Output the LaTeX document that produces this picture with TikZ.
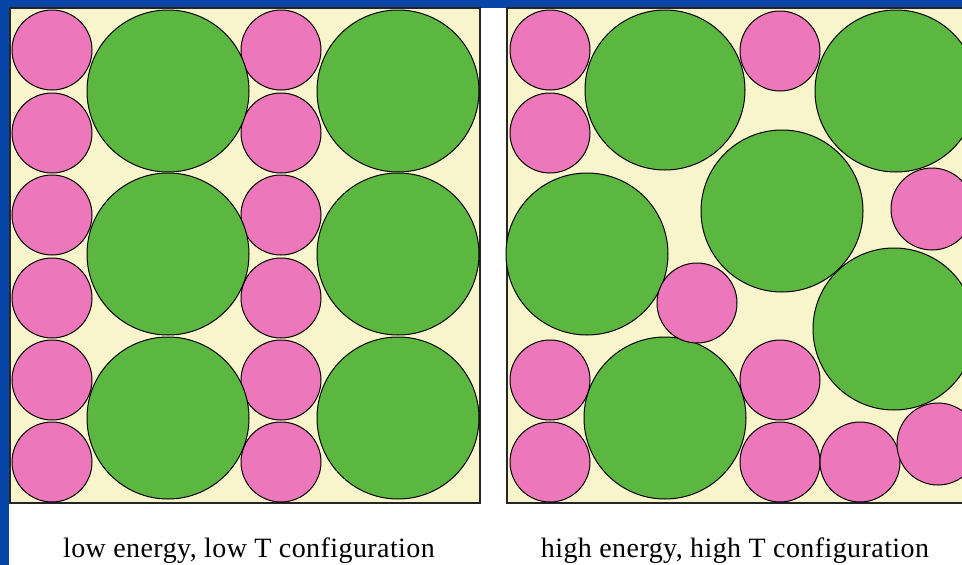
\documentclass[tikz,border=0pt]{standalone}
\usepackage{fontspec}
\setmainfont{Liberation Serif}
\newfontfamily\capfont[LetterSpace=1.5]{Liberation Serif}
\definecolor{bgblue}{HTML}{0746A8}
\definecolor{cream}{HTML}{F8F5CC}
\definecolor{pinkc}{HTML}{EC77BA}
\definecolor{greenc}{HTML}{5CB740}
\tikzset{
  panel/.style={fill=cream, draw=black!85, line width=1.4pt},
  small/.style={fill=pinkc, draw=black, line width=1pt},
  big/.style={fill=greenc, draw=black, line width=1pt},
  caption/.style={font=\capfont\fontsize{28}{32}\selectfont, anchor=base, inner sep=0pt}
}
\begin{document}
\begin{tikzpicture}[x=1pt, y=-1pt]
\useasboundingbox (0,0) rectangle (962,565);
\clip (0,0) rectangle (962,565);
\fill[white] (0,0) rectangle (962,565);
\fill[bgblue] (0,0) rectangle (962,7.5);
\fill[bgblue] (0,0) rectangle (9,565);
% left panel
\draw[panel] (10,8) rectangle (480,503);
\foreach \yy in {50,133,215,298,380,462} {
  \draw[small] (52,\yy) circle (40);
  \draw[small] (281,\yy) circle (40);
}
\foreach \yy in {91,254,418} {
  \draw[big] (168,\yy) circle (81);
  \draw[big] (398,\yy) circle (81);
}
% right panel
\draw[panel] (507,8) rectangle (1000,503);
\draw[big] (665,90) circle (80);
\draw[big] (896,91) circle (81);
\draw[big] (782,211) circle (81);
\draw[big] (587,254) circle (81);
\draw[big] (894,329) circle (81);
\draw[big] (665,418) circle (81);
\draw[small] (550,50) circle (40);
\draw[small] (550,133) circle (40);
\draw[small] (780,51) circle (40);
\draw[small] (932,209) circle (41);
\draw[small] (697,303) circle (40);
\draw[small] (550,380) circle (40);
\draw[small] (550,462) circle (40);
\draw[small] (780,380) circle (40);
\draw[small] (780,462) circle (40);
\draw[small] (860,462) circle (40);
\draw[small] (938,444) circle (41);
% captions
\node[caption] (lowcap) at (249,557) {low energy, low T configuration};
\node[caption] (highcap) at (735,557) {high energy, high T configuration};
\end{tikzpicture}
\end{document}
